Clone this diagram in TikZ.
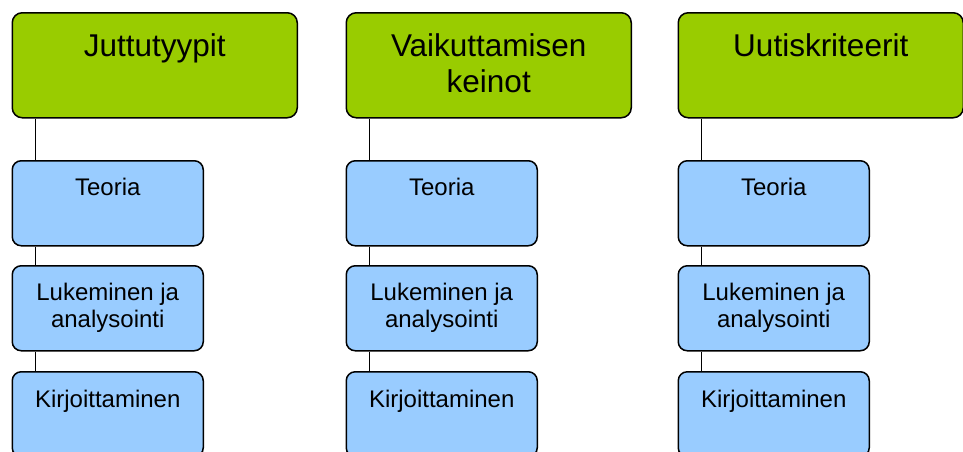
\documentclass[tikz,border=0pt]{standalone}
\usepackage{fontspec}
\setmainfont{Liberation Sans}
\definecolor{headgreen}{HTML}{99CC00}
\definecolor{stepblue}{HTML}{99CCFF}
\begin{document}
\begin{tikzpicture}[x=1pt,y=-1pt,
  headbox/.style={draw=black, line width=1.5pt, fill=headgreen, rounded corners=10pt,
    minimum width=285pt, minimum height=105pt, inner sep=0pt, anchor=north west},
  stepbox/.style={draw=black, line width=1.5pt, fill=stepblue, rounded corners=9pt,
    minimum width=191pt, minimum height=85pt, inner sep=0pt, anchor=north west},
  headtext/.style={anchor=north, inner sep=0pt, align=center,
    font=\fontsize{31.5}{36}\selectfont},
  steptext/.style={anchor=north, inner sep=0pt, align=center,
    font=\fontsize{24}{27}\selectfont},
  link/.style={draw=black, line width=1.3pt}
]
\useasboundingbox (0,0) rectangle (963,451);
\clip (0,0) rectangle (963,451);

% column boxes
\foreach \c/\x in {1/11.5, 2/345.5, 3/677.5}{
  \node[headbox] (g\c) at (\x,12) {};
  \node[stepbox] (t\c) at (\x,160) {};
  \node[stepbox] (l\c) at (\x,265) {};
  \node[stepbox] (k\c) at (\x,371) {};
}

% vertical links down each column
\foreach \c in {1,2,3}{
  \draw[link] ([xshift=24pt]g\c.south west) -- ([xshift=24pt]t\c.north west);
  \draw[link] ([xshift=24pt]t\c.south west) -- ([xshift=24pt]l\c.north west);
  \draw[link] ([xshift=24pt]l\c.south west) -- ([xshift=24pt]k\c.north west);
}

% headings
\node[headtext] (g1txt) at ([yshift=-21pt]g1.north) {Juttutyypit};
\node[headtext] (g2txt) at ([yshift=-21pt]g2.north) {Vaikuttamisen\\keinot};
\node[headtext] (g3txt) at ([yshift=-21pt]g3.north) {Uutiskriteerit};

% step labels
\foreach \c in {1,2,3}{
  \node[steptext] (t\c txt) at ([yshift=-18pt]t\c.north) {Teoria};
  \node[steptext] (l\c txt) at ([yshift=-18pt]l\c.north) {Lukeminen ja\\analysointi};
  \node[steptext] (k\c txt) at ([yshift=-19pt]k\c.north) {Kirjoittaminen};
}
\end{tikzpicture}
\end{document}
